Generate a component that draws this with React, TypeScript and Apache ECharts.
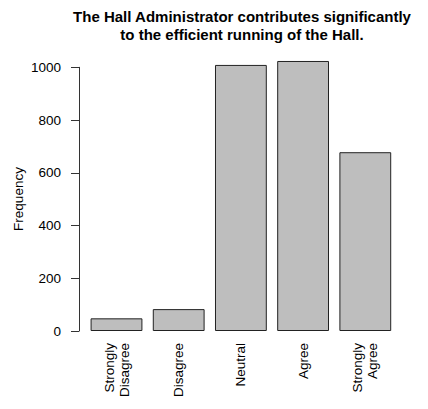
import React, { useEffect, useRef } from "react";
import * as echarts from "echarts";

const categories = ["Strongly\nDisagree", "Disagree", "Neutral", "Agree", "Strongly\nAgree"];
const frequencies = [48, 83, 1009, 1024, 678];
const yTicks = { min: 0, max: 1000, interval: 200 };
const titleText = "The Hall Administrator contributes significantly\nto the efficient running of the Hall.";
const yAxisTitle = "Frequency";

const FONT = "'Liberation Sans', Arial, Helvetica, sans-serif";

export default function App() {
  const ref = useRef<HTMLDivElement>(null);
  useEffect(() => {
    if (!ref.current) return;
    const chart = echarts.init(ref.current, undefined, { renderer: "svg" });
    chart.setOption({
      animation: false,
      backgroundColor: "#ffffff",
      grid: { left: 85.4, right: 31.6, top: 67.3, bottom: 78, containLabel: false },
      xAxis: {
        type: "category",
        data: categories,
        axisLine: { show: false },
        axisTick: { show: false },
        axisLabel: {
          rotate: 90,
          margin: 12,
          fontSize: 13.5,
          lineHeight: 15,
          color: "#000",
          fontFamily: FONT,
          interval: 0,
        },
      },
      yAxis: {
        type: "value",
        min: yTicks.min,
        max: yTicks.max,
        interval: yTicks.interval,
        offset: 6.4,
        splitLine: { show: false },
        axisLine: { show: true, lineStyle: { color: "#333", width: 1 } },
        axisTick: { show: true, length: 8, lineStyle: { color: "#333", width: 1 } },
        axisLabel: {
          margin: 18,
          fontSize: 13.5,
          color: "#000",
          fontFamily: FONT,
          formatter: (v: number) => String(v),
        },
      },
      series: [
        {
          type: "bar",
          data: frequencies,
          clip: false,
          barCategoryGap: "16.7%",
          itemStyle: { color: "#BEBEBE", borderColor: "#222", borderWidth: 1 },
        },
      ],
      graphic: [
        {
          type: "text",
          x: 242,
          y: 7,
          style: {
            text: titleText,
            font: `bold 15px ${FONT}`,
            fill: "#000",
            textAlign: "center",
            textVerticalAlign: "top",
            lineHeight: 18,
          },
        },
        {
          type: "text",
          x: 18,
          y: 199,
          rotation: Math.PI / 2,
          style: {
            text: yAxisTitle,
            font: `13.5px ${FONT}`,
            fill: "#000",
            textAlign: "center",
            textVerticalAlign: "middle",
          },
        },
      ],
    });
    return () => chart.dispose();
  }, []);
  return (
    <div
      ref={ref}
      style={{ position: "absolute", left: 0, top: 0, width: 428, height: 409 }}
    />
  );
}
